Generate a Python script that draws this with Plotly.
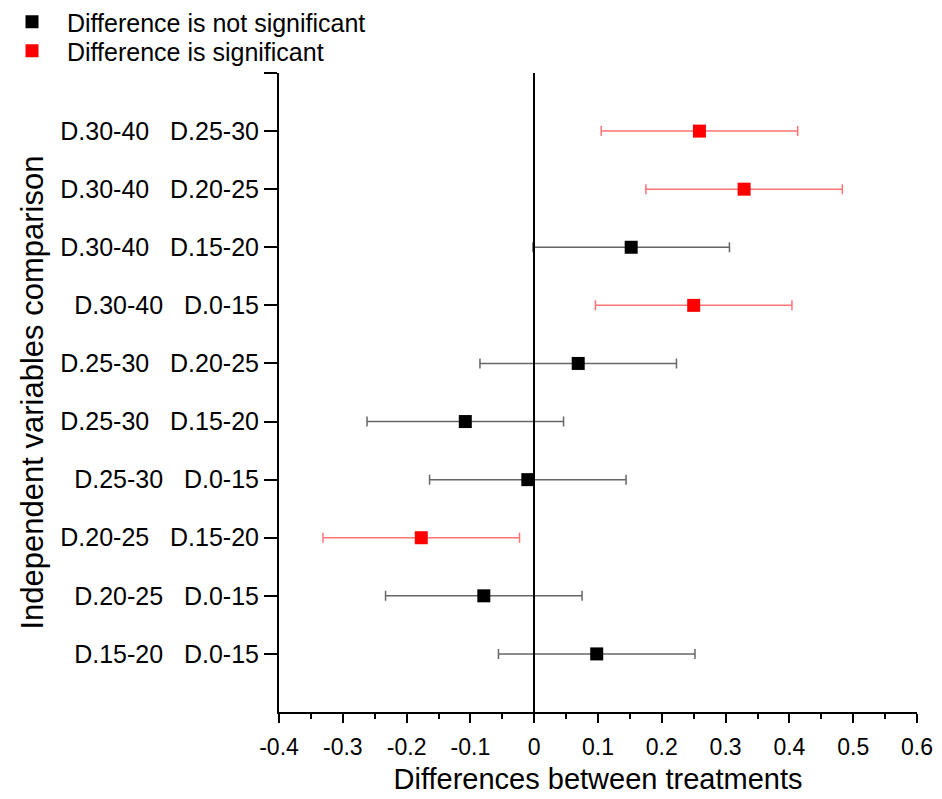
import plotly.graph_objects as go

# Comparisons, top to bottom
comparisons = [
    "D.30-40  D.25-30",
    "D.30-40  D.20-25",
    "D.30-40  D.15-20",
    "D.30-40  D.0-15",
    "D.25-30  D.20-25",
    "D.25-30  D.15-20",
    "D.25-30  D.0-15",
    "D.20-25  D.15-20",
    "D.20-25  D.0-15",
    "D.15-20  D.0-15",
]
differences = [0.259, 0.329, 0.152, 0.250, 0.069, -0.108, -0.010, -0.177, -0.079, 0.098]
half_ci = [0.154, 0.154, 0.154, 0.154, 0.154, 0.154, 0.154, 0.154, 0.154, 0.154]
significant = [True, True, False, True, False, False, False, True, False, False]

x_tick_vals = [-0.4, -0.3, -0.2, -0.1, 0, 0.1, 0.2, 0.3, 0.4, 0.5, 0.6]
x_tick_text = ["-0.4", "-0.3", "-0.2", "-0.1", "0", "0.1", "0.2", "0.3", "0.4", "0.5", "0.6"]

n = len(comparisons)
ypos = [n - i for i in range(n)]  # top row at y = n
labels_nbsp = [c.replace("  ", "\u00a0\u00a0\u00a0") for c in comparisons]

FONT = "Liberation Sans, Arial, sans-serif"

fig = go.Figure()

def add_group(sig, name, color, errcolor, legend_id):
    xs = [d for d, s in zip(differences, significant) if s == sig]
    ys = [y for y, s in zip(ypos, significant) if s == sig]
    es = [e for e, s in zip(half_ci, significant) if s == sig]
    fig.add_trace(go.Scatter(
        x=xs, y=ys, mode="markers", name=name, legend=legend_id,
        marker=dict(symbol="square", size=13, color=color,
                    line=dict(width=0)),
        error_x=dict(type="data", array=es, visible=True,
                     color=errcolor, thickness=1.5, width=5),
    ))

add_group(False, "Difference is not significant", "#000000", "rgba(0,0,0,0.6)", "legend")
add_group(True, "Difference is significant", "#ff0000", "rgba(255,0,0,0.55)", "legend2")

legend_common = dict(xref="container", yref="container", x=0,
                     xanchor="left", yanchor="middle", indentation=-3,
                     font=dict(size=25, family=FONT, color="black"),
                     itemwidth=60, bgcolor="rgba(0,0,0,0)")

fig.update_layout(
    width=942, height=799,
    paper_bgcolor="white", plot_bgcolor="white",
    margin=dict(l=279, r=25, t=73, b=87, autoexpand=False),
    font=dict(family=FONT, color="black"),
    showlegend=True,
    legend=dict(y=1 - 22 / 799, **legend_common),
    legend2=dict(y=1 - 51 / 799, **legend_common),
    xaxis=dict(
        range=[-0.4, 0.6], tickvals=x_tick_vals, ticktext=x_tick_text,
        ticks="outside", ticklen=9, tickwidth=2, tickcolor="black",
        ticklabelstandoff=4, automargin=False,
        minor=dict(ticks="outside", dtick=0.05, tick0=0, ticklen=5,
                   tickwidth=2, tickcolor="black"),
        showline=True, linecolor="black", linewidth=2, mirror=False,
        showgrid=False,
        zeroline=True, zerolinecolor="black", zerolinewidth=2,
        tickfont=dict(size=23, family=FONT, color="black"),
        title=dict(text="Differences between treatments",
                   font=dict(size=29, family=FONT, color="black"), standoff=10),
    ),
    yaxis=dict(
        range=[0, 11], tickvals=ypos + [11], ticktext=labels_nbsp + [""],
        ticks="outside", ticklen=13, tickwidth=2, tickcolor="black",
        automargin=False,
        showline=True, linecolor="black", linewidth=2, mirror=False,
        showgrid=False, zeroline=False,
        tickfont=dict(size=25, family=FONT, color="black"),
    ),
    annotations=[dict(
        text="Independent variables comparison", textangle=-90,
        xref="paper", yref="paper", x=-(279 - 32) / 638, y=0.5,
        xanchor="center", yanchor="middle", showarrow=False,
        font=dict(size=31, family=FONT, color="black"),
    )],
)

fig.write_html("out.html", config={"displayModeBar": False},
               post_script="document.body.style.margin='0';document.body.style.overflow='hidden';")
